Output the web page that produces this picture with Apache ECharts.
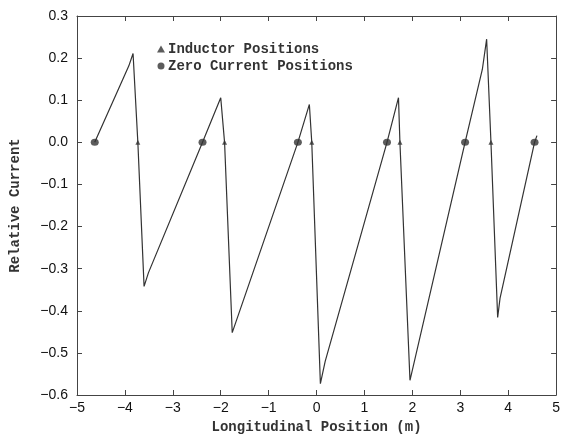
<!DOCTYPE html>
<html>
<head>
<meta charset="utf-8">
<script src="https://cdn.jsdelivr.net/npm/echarts@6/dist/echarts.min.js"></script>
<style>
html,body{margin:0;padding:0;background:#fff;}
#chart{width:563px;height:439px;}
</style>
</head>
<body>
<div id="chart"></div>
<script>
// current trace
var posX = [-4.63, -3.92, -3.83, -3.73, -3.60, -3.51, -2.38, -2.00, -1.92, -1.76, -0.39, -0.15, -0.10, 0.08, 0.18, 1.47, 1.71, 1.74, 1.95, 3.10, 3.46, 3.55, 3.64, 3.78, 3.83, 4.55, 4.60];
var current = [0, 0.181, 0.211, 0, -0.342, -0.31, 0, 0.106, 0, -0.452, 0, 0.09, 0, -0.573, -0.52, 0, 0.106, 0, -0.565, 0, 0.173, 0.245, 0, -0.416, -0.37, 0, 0.016];
var inductorX = [-3.73, -1.92, -0.10, 1.74, 3.64];
var zeroX = [-4.63, -2.38, -0.39, 1.47, 3.10, 4.55];

var lineData = [];
for (var i = 0; i < posX.length; i++) {
    lineData.push([posX[i], current[i]]);
}
var inductorData = inductorX.map(function (x) { return [x, 0]; });
var zeroData = zeroX.map(function (x) { return [x, 0]; });

function minus(v) {
    return String(v).replace('-', '\u2212');
}

var ink = '#333';
var monoFont = '"Liberation Mono", "DejaVu Sans Mono", monospace';
var tickFont = '"Liberation Sans", Arial, sans-serif';

// frame axis (no labels), used for top and right
function frameAxis(pos, min, max, step) {
    return {
        type: 'value',
        position: pos,
        min: min,
        max: max,
        interval: step,
        axisLine: { show: true, onZero: false, lineStyle: { color: '#444', width: 1 } },
        axisTick: { show: true, inside: true, length: 5, lineStyle: { color: '#444' } },
        axisLabel: { show: false },
        splitLine: { show: false }
    };
}

var option = {
    backgroundColor: '#fff',
    animation: false,
    grid: { left: 72, right: 6, top: 16, bottom: 43 },
    legend: {
        left: 152,
        top: 37,
        orient: 'vertical',
        itemWidth: 8,
        itemHeight: 7,
        itemGap: 3,
        data: ['Inductor Positions', 'Zero Current Positions'],
        textStyle: { fontFamily: monoFont, fontWeight: 'bold', fontSize: 14, color: ink, padding: [0, 0, 0, -2] }
    },
    xAxis: [{
        type: 'value',
        min: -5,
        max: 5,
        interval: 1,
        name: 'Longitudinal Position (m)',
        nameLocation: 'middle',
        nameGap: 25,
        nameTextStyle: { fontFamily: monoFont, fontWeight: 'bold', fontSize: 14, color: ink },
        axisLine: { show: true, onZero: false, lineStyle: { color: '#444', width: 1 } },
        axisTick: { show: true, inside: true, length: 5, lineStyle: { color: '#444' } },
        axisLabel: { fontFamily: tickFont, fontSize: 14, color: '#111', margin: 6, formatter: minus },
        splitLine: { show: false }
    }, frameAxis('top', -5, 5, 1)],
    yAxis: [{
        type: 'value',
        min: -0.6,
        max: 0.3,
        interval: 0.1,
        name: 'Relative Current',
        nameLocation: 'middle',
        nameGap: 55,
        nameTextStyle: { fontFamily: monoFont, fontWeight: 'bold', fontSize: 14, color: ink },
        axisLine: { show: true, onZero: false, lineStyle: { color: '#444', width: 1 } },
        axisTick: { show: true, inside: true, length: 5, lineStyle: { color: '#444' } },
        axisLabel: {
            fontFamily: tickFont, fontSize: 14, color: '#111', margin: 9,
            formatter: function (v) { return minus(v.toFixed(1)); }
        },
        splitLine: { show: false }
    }, frameAxis('right', -0.6, 0.3, 0.1)],
    series: [{
        name: 'current',
        type: 'line',
        data: lineData,
        showSymbol: false,
        symbol: 'none',
        lineStyle: { color: ink, width: 1.2 },
        z: 2
    }, {
        name: 'Inductor Positions',
        type: 'scatter',
        data: inductorData,
        symbol: 'triangle',
        symbolSize: 5,
        itemStyle: { color: ink },
        z: 3
    }, {
        name: 'Zero Current Positions',
        type: 'scatter',
        data: zeroData,
        symbol: 'circle',
        symbolSize: [8, 7],
        itemStyle: { color: ink },
        z: 3
    }]
};

var myChart = echarts.init(document.getElementById('chart'));
myChart.setOption(option);
</script>
</body>
</html>
